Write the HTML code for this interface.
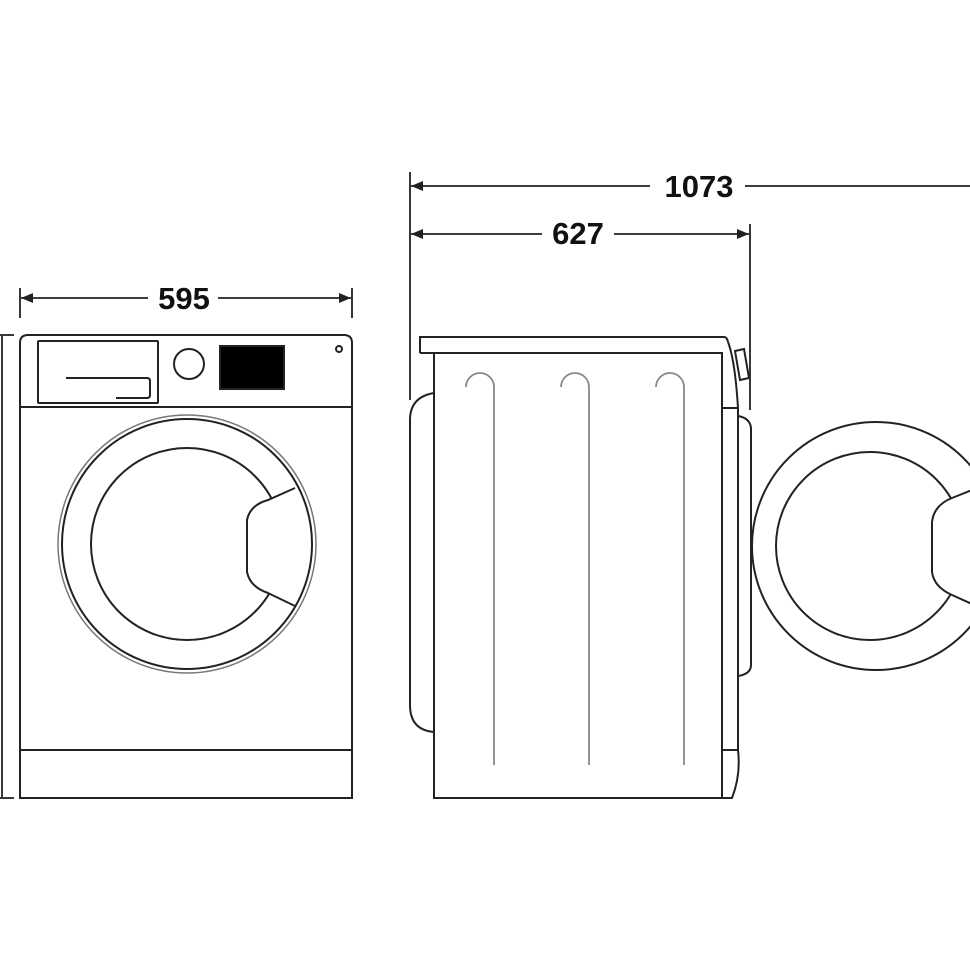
<!DOCTYPE html>
<html><head><style>body{margin:0;background:#fff}svg{display:block}</style></head><body>
<svg width="970" height="971" viewBox="0 0 970 971" xmlns="http://www.w3.org/2000/svg" fill="none" stroke="#222" stroke-width="2">
<defs><marker id="a" markerWidth="12" markerHeight="10" refX="12" refY="5" orient="auto-start-reverse" markerUnits="userSpaceOnUse"><path d="M0,0 L12,5 L0,10 z" fill="#222" stroke="none"/></marker></defs>
<g stroke-width="1.8">
<line x1="410" y1="172" x2="410" y2="400"/>
<line x1="750" y1="224" x2="750" y2="410"/>
<line x1="20" y1="288" x2="20" y2="318"/>
<line x1="352" y1="288" x2="352" y2="318"/>
<line x1="411" y1="186" x2="650" y2="186" marker-start="url(#a)"/>
<line x1="745" y1="186" x2="970" y2="186"/>
<line x1="411" y1="234" x2="542" y2="234" marker-start="url(#a)"/>
<line x1="614" y1="234" x2="749" y2="234" marker-end="url(#a)"/>
<line x1="21" y1="298" x2="148" y2="298" marker-start="url(#a)"/>
<line x1="218" y1="298" x2="351" y2="298" marker-end="url(#a)"/>
<line x1="0" y1="335" x2="14" y2="335"/>
<line x1="0" y1="798" x2="14" y2="798"/>
<line x1="2" y1="336" x2="2" y2="797"/>
</g>
<g fill="#111" stroke="none" font-family="Liberation Sans, sans-serif" font-weight="bold" font-size="31" text-anchor="middle">
<text x="699" y="197">1073</text>
<text x="578" y="244">627</text>
<text x="184" y="309">595</text>
</g>
<path d="M20,798 V343 Q20,335 28,335 H344 Q352,335 352,343 V798 Z"/>
<line x1="20" y1="407" x2="352" y2="407"/>
<line x1="20" y1="750" x2="352" y2="750"/>
<rect x="38" y="341" width="120" height="62" rx="1"/>
<path d="M66,378 H147 Q150,378 150,381 V395 Q150,398 147,398 H116"/>
<circle cx="189" cy="364" r="15"/>
<rect x="220" y="346" width="64" height="43" fill="#000"/>
<circle cx="339" cy="349" r="3"/>
<circle cx="187" cy="544" r="129" stroke="#777" stroke-width="1.5"/>
<circle cx="187" cy="544" r="125"/>
<circle cx="187" cy="544" r="96"/>
<path d="M295,488 L268,500 Q250,505 247,520 L247,572 Q250,587 268,593 L295,606" fill="#fff"/>
<path d="M420,353 V337 H724 Q727,337 728,342"/>
<line x1="420" y1="353" x2="722" y2="353"/>
<rect x="434" y="353" width="288" height="445"/>
<path d="M434,393 Q410,397 410,420 V705 Q410,730 434,732"/>
<g stroke="#888" stroke-width="1.8">
<path d="M466,387 A14,14 0 0 1 494,387 V765"/>
<path d="M561,387 A14,14 0 0 1 589,387 V765"/>
<path d="M656,387 A14,14 0 0 1 684,387 V765"/>
</g>
<path d="M728,342 Q735,360 738,408 V409"/>
<path d="M735,351 L744,349 L749,378 L740,380 Z"/>
<line x1="722" y1="408" x2="738" y2="408"/>
<path d="M738,416 Q750,418 751,428 V665 Q751,674 738,676"/>
<line x1="738" y1="408" x2="738" y2="750"/>
<line x1="722" y1="750" x2="738" y2="750"/>
<path d="M738,750 Q741,775 732,798 H722"/>
<circle cx="876" cy="546" r="124"/>
<circle cx="870" cy="546" r="94"/>
<path d="M972,490 L952,498 Q934,505 932,522 L932,572 Q934,587 952,595 L972,604" fill="#fff"/>
</svg>
</body></html>
